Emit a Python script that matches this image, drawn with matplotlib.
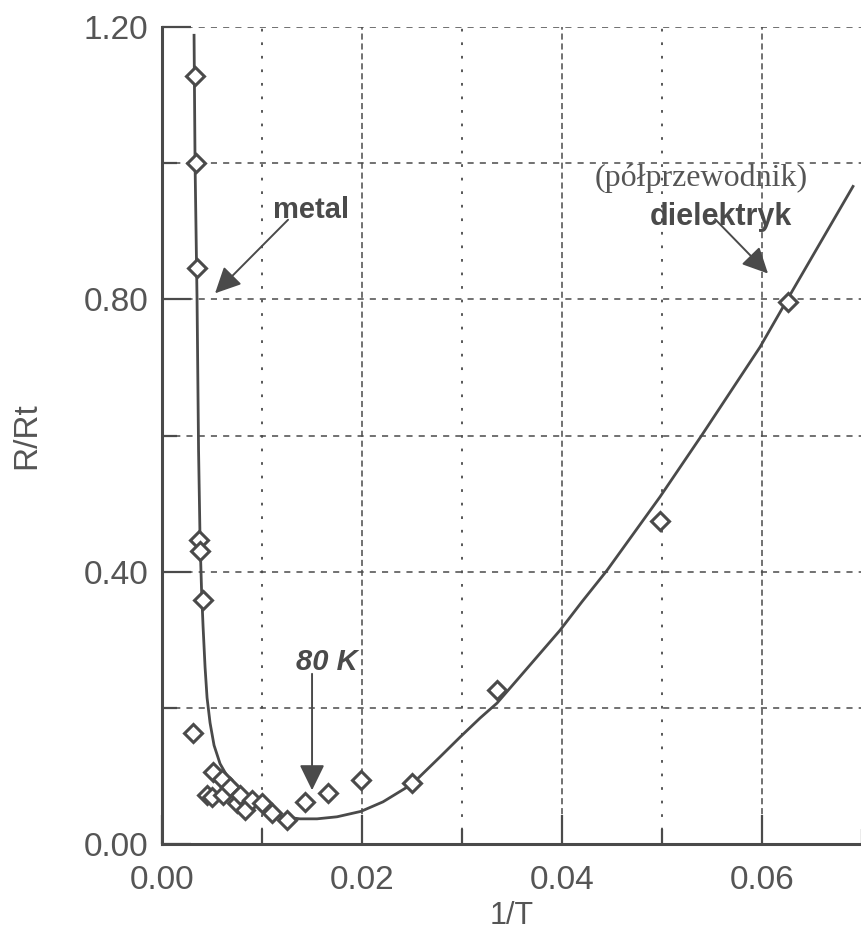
import matplotlib
matplotlib.use("Agg")
import matplotlib.pyplot as plt
from matplotlib.ticker import MultipleLocator, FormatStrFormatter

# measured points (diamonds)
inv_t = [0.0033, 0.0034, 0.0035, 0.0037, 0.0038, 0.0041, 0.0031, 0.0051, 0.0060,
         0.0045, 0.0050, 0.0061, 0.0068, 0.0075, 0.0078, 0.0083, 0.0090, 0.0100,
         0.0110, 0.0125, 0.0143, 0.0166, 0.0199, 0.0250, 0.0335, 0.0498, 0.0626]
r_ratio = [1.128, 1.000, 0.846, 0.447, 0.430, 0.358, 0.163, 0.106, 0.096,
           0.072, 0.069, 0.072, 0.084, 0.060, 0.072, 0.050, 0.065, 0.060,
           0.045, 0.035, 0.062, 0.075, 0.094, 0.090, 0.226, 0.474, 0.796]

# fitted curve
curve_x = [0.0032, 0.0033, 0.0035, 0.00365, 0.0038, 0.00395, 0.0041, 0.0043, 0.0045,
           0.0048, 0.0052, 0.0058, 0.0065, 0.0071, 0.0080, 0.0088, 0.0105, 0.0121,
           0.0138, 0.0155, 0.0175, 0.0199, 0.0221, 0.0250, 0.0278, 0.0298, 0.0318,
           0.0335, 0.0358, 0.0398, 0.0420, 0.0445, 0.0498, 0.0540, 0.0598, 0.0625,
           0.0691]
curve_y = [1.188, 1.000, 0.799, 0.579, 0.447, 0.373, 0.320, 0.260, 0.215,
           0.178, 0.145, 0.118, 0.100, 0.088, 0.075, 0.065, 0.050, 0.040,
           0.037, 0.037, 0.040, 0.048, 0.062, 0.088, 0.128, 0.157, 0.185,
           0.207, 0.246, 0.314, 0.356, 0.402, 0.510, 0.601, 0.730, 0.799,
           0.966]

GRAY = "#4a4a4a"
TXT = "#555555"

plt.rcParams["font.family"] = ["Liberation Sans", "DejaVu Sans"]

fig = plt.figure(figsize=(8.62, 9.35), dpi=100)
ax = fig.add_axes([0.188, 0.0973, 0.812, 0.8737])

ax.plot(curve_x, curve_y, color=GRAY, lw=2.0, zorder=3)
ax.plot(inv_t, r_ratio, linestyle="none", marker="D", markersize=9,
        markerfacecolor="white", markeredgecolor=GRAY, markeredgewidth=2.2, zorder=4)

ax.set_xlim(0, 0.07)
ax.set_ylim(0, 1.2)

ax.xaxis.set_major_locator(MultipleLocator(0.02))
ax.xaxis.set_minor_locator(MultipleLocator(0.01))
ax.yaxis.set_major_locator(MultipleLocator(0.4))
ax.yaxis.set_minor_locator(MultipleLocator(0.2))
ax.xaxis.set_major_formatter(FormatStrFormatter("%.2f"))
ax.yaxis.set_major_formatter(FormatStrFormatter("%.2f"))

ax.tick_params(which="major", direction="in", length=21, width=1.6, color=GRAY,
               labelsize=24, labelcolor=TXT)
ax.tick_params(which="minor", direction="in", length=11, width=1.6, color=GRAY)
ax.tick_params(axis="x", which="major", pad=15)
ax.tick_params(axis="y", which="major", pad=10)

ax.grid(axis="x", which="major", color=GRAY, lw=1.1, linestyle=(0, (4, 2.5)))
ax.grid(axis="x", which="minor", color=GRAY, lw=1.3, linestyle=(0, (1.5, 6)))
ax.grid(axis="y", which="both", color=GRAY, lw=1.1, linestyle=(0, (4, 4)))

for side in ["top", "right"]:
    ax.spines[side].set_visible(False)
for side in ["left", "bottom"]:
    ax.spines[side].set_linewidth(2.2)
    ax.spines[side].set_color(GRAY)

ax.set_xlabel("1/T", fontsize=22, color=TXT, labelpad=4)
ax.set_ylabel("R/Rt", fontsize=24, color=TXT, labelpad=30)

arrow = dict(arrowstyle="-|>,head_length=0.45,head_width=0.22", mutation_scale=35,
             color=GRAY, lw=1.4, shrinkA=0, shrinkB=0)

ax.text(0.0111, 0.931, "metal", fontsize=21, fontweight="bold", color=GRAY,
        va="center", ha="left")
ax.annotate("", xy=(0.0053, 0.809), xytext=(0.0126, 0.917), arrowprops=arrow)

ax.text(0.0433, 0.978, "(półprzewodnik)", fontsize=23, color=TXT,
        family=["Liberation Serif", "DejaVu Serif"], va="center", ha="left")
ax.text(0.0488, 0.921, "dielektryk", fontsize=22, fontweight="bold", color=GRAY,
        va="center", ha="left")
ax.annotate("", xy=(0.0606, 0.838), xytext=(0.0553, 0.918), arrowprops=arrow)

ax.text(0.0165, 0.267, "80 K", fontsize=21, fontweight="bold", style="italic",
        color=GRAY, va="center", ha="center")
ax.annotate("", xy=(0.0150, 0.079), xytext=(0.0150, 0.250), arrowprops=arrow)

fig.savefig("out.png", dpi=100)
